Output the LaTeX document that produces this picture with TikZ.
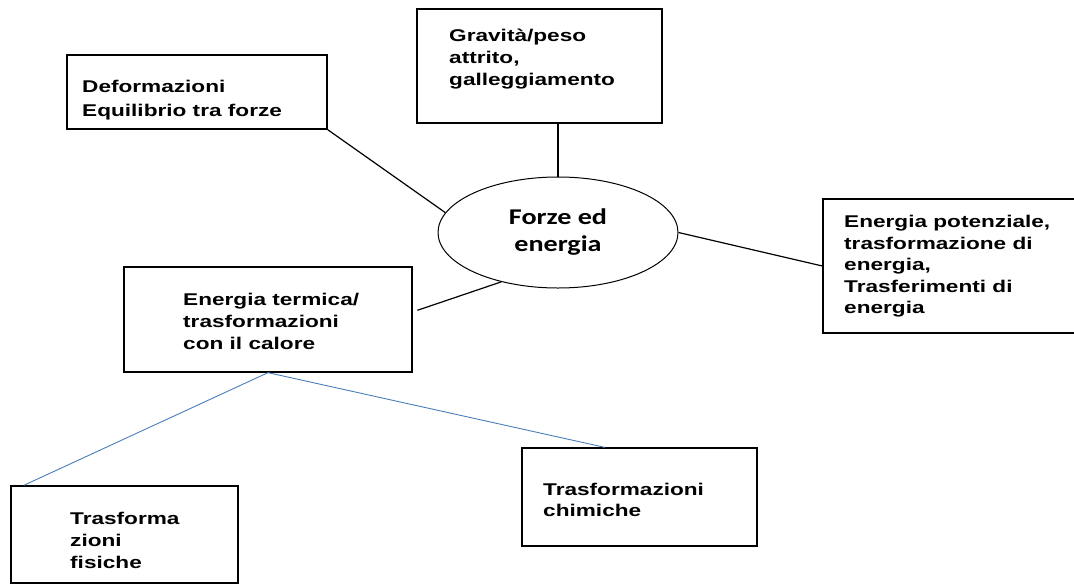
\documentclass[tikz,border=0pt]{standalone}
\usepackage{fontspec}
\usepackage{tikz}
\usetikzlibrary{shapes.geometric, calc}
\newfontfamily\boxfont{Liberation Sans}[FakeStretch=1.33]
\newfontfamily\ellfont{Carlito}[FakeStretch=1.25]
\definecolor{mBlue}{HTML}{4A7EBB}

\begin{document}
\begin{tikzpicture}[x=1pt, y=-1pt,
      bx/.style={draw, line width=1.3pt, inner sep=0pt},
      t/.style={anchor=north west, inner sep=0pt, align=left,
        font=\boxfont\bfseries\fontsize{17}{22}\selectfont},
      ln/.style={line width=1.2pt},
      bl/.style={mBlue, line width=0.9pt}]
    \useasboundingbox (0,0) rectangle (1074,584);
    % boxes
    \node[bx, minimum width=260pt, minimum height=74pt]  (def)  at (197,92)      {};
    \node[bx, minimum width=245pt, minimum height=114pt] (grav) at (539.5,66)    {};
    \node[bx, minimum width=277pt, minimum height=134pt] (pot)  at (961.5,266)   {};
    \node[bx, minimum width=288pt, minimum height=105pt] (ter)  at (268,319.5)   {};
    \node[bx, minimum width=227pt, minimum height=97pt]  (fis)  at (124.5,534.5) {};
    \node[bx, minimum width=235pt, minimum height=98pt]  (chi)  at (639.5,497)   {};
    \node[ellipse, draw, line width=1pt, minimum width=240pt, minimum height=111pt,
          align=center, font=\ellfont\bfseries\fontsize{22.5}{27}\selectfont]
          (ell) at (558,232.5) {Forze ed\\energia};
    % texts
    \node[t, font=\boxfont\bfseries\fontsize{17}{24}\selectfont] (defT) at (82,80)
      {Deformazioni\\Equilibrio tra forze};
    \node[t] (gravT) at (449,29) {Gravità/peso\\attrito,\\galleggiamento};
    \node[t, font=\boxfont\bfseries\fontsize{17}{21.5}\selectfont] (potT) at (844,215)
      {Energia potenziale,\\trasformazione di\\energia,\\Trasferimenti di\\energia};
    \node[t] (terT) at (183,293) {Energia termica/\\trasformazioni\\con il calore};
    \node[t] (fisT) at (70,512)  {Trasforma\\zioni\\fisiche};
    \node[t, font=\boxfont\bfseries\fontsize{17}{21}\selectfont] (chiT) at (543,483)
      {Trasformazioni\\chimiche};
    % connectors
    \draw[ln] (def.south east) -- (ell.170);
    \draw[ln] (ell.north) -- (ell.north |- grav.south);
    \draw[ln] (ell.east) -- (pot.west);
    \draw[ln, shorten <=5pt] (ter.3) -- (ell.221);
    \draw[bl] (ter.south) -- (fis.154);
    \draw[bl] (ter.south) -- (chi.125);
  \end{tikzpicture}
\end{document}
